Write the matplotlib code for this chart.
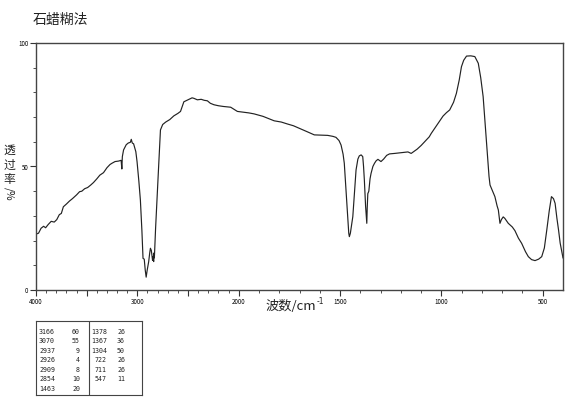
import numpy as np
import matplotlib
matplotlib.use('Agg')
import matplotlib.pyplot as plt

plt.rcParams['font.family'] = ['Noto Sans CJK SC', 'DejaVu Sans']

# spectrum (wavenumber cm-1, transmittance %)
wavenumber = [3995, 3975, 3950, 3925, 3905, 3880, 3850, 3820, 3795, 3770,
              3750, 3730, 3700, 3670, 3640, 3600, 3570, 3548, 3520, 3490,
              3460, 3433, 3400, 3370, 3334, 3300, 3270, 3251, 3220, 3185,
              3160, 3153, 3148, 3136, 3110, 3090, 3069, 3060, 3050, 3037,
              3015, 3003, 2985, 2970, 2955, 2944, 2932, 2922, 2913, 2903,
              2888, 2878, 2871, 2862, 2850, 2843, 2839, 2836, 2832, 2820,
              2805, 2790, 2772, 2750, 2720, 2680, 2640, 2600, 2574, 2541,
              2500, 2460, 2442, 2420, 2408, 2370, 2340, 2309, 2280, 2244,
              2200, 2150, 2079, 2040, 2013, 1980, 1950, 1924, 1880, 1825,
              1790, 1759, 1730, 1693, 1660, 1627, 1590, 1561, 1535, 1520,
              1505, 1495, 1485, 1479, 1470, 1462, 1457, 1454, 1449, 1437,
              1428, 1421, 1412, 1405, 1396, 1388, 1384, 1380, 1374, 1368,
              1366, 1363, 1358, 1352, 1347, 1338, 1330, 1322, 1313, 1305,
              1298, 1285, 1270, 1256, 1230, 1198, 1180, 1165, 1149, 1120,
              1100, 1083, 1060, 1050, 1020, 992, 975, 959, 940, 926,
              912, 901, 890, 876, 855, 835, 818, 806, 794, 783,
              772, 765, 760, 750, 736, 725, 719, 711, 704, 695,
              687, 670, 650, 637, 620, 604, 585, 571, 555, 538,
              520, 505, 492, 480, 468, 457, 447, 439, 430, 422,
              414, 406, 400]
transmittance = [22.7, 23.0, 25.0, 25.8, 25.2, 26.5, 27.8, 27.5, 28.5, 30.5,
                 31.0, 33.7, 34.8, 36.0, 37.0, 38.5, 39.8, 40.0, 41.0, 41.5,
                 42.5, 43.5, 45.0, 46.5, 47.5, 49.5, 50.8, 51.3, 52.0, 52.2,
                 52.5, 49.0, 54.0, 56.7, 58.8, 59.5, 59.8, 61.0, 59.5, 59.2,
                 56.0, 52.0, 44.0, 36.4, 24.0, 12.8, 12.5, 8.0, 5.2, 8.0,
                 11.5, 15.0, 16.9, 16.0, 12.0, 13.5, 11.5, 15.0, 13.0, 25.0,
                 37.8, 50.0, 64.8, 67.0, 68.0, 69.0, 70.5, 71.5, 72.3, 76.2,
                 77.0, 77.8, 77.6, 77.2, 77.0, 77.2, 76.8, 76.6, 75.6, 75.0,
                 74.6, 74.3, 74.0, 73.0, 72.3, 72.0, 71.7, 71.3, 70.3, 68.5,
                 68.0, 67.2, 66.5, 65.2, 64.0, 62.8, 62.7, 62.6, 62.2, 61.8,
                 60.5, 58.7, 55.0, 51.3, 40.0, 29.7, 23.0, 21.6, 23.0, 29.7,
                 40.0, 48.6, 53.0, 54.3, 54.7, 54.0, 50.0, 44.5, 34.0, 27.0,
                 33.0, 39.0, 40.0, 45.0, 47.2, 50.0, 51.3, 52.3, 52.9, 52.4,
                 52.0, 53.0, 54.5, 55.1, 55.3, 55.6, 55.8, 55.9, 55.3, 57.0,
                 58.5, 60.0, 62.0, 63.4, 67.0, 70.4, 71.8, 72.9, 76.0, 79.6,
                 85.0, 90.4, 93.0, 94.7, 94.8, 94.5, 91.8, 86.0, 78.3, 66.0,
                 54.0, 46.0, 42.5, 40.5, 37.8, 34.0, 32.4, 27.0, 28.5, 29.6,
                 29.0, 27.0, 25.5, 24.0, 21.0, 18.9, 15.5, 13.5, 12.3, 11.9,
                 12.5, 13.5, 17.0, 24.3, 32.0, 37.8, 37.0, 35.1, 29.0, 24.3,
                 19.0, 15.5, 13.0]

# peak table
peak_wn = [3166, 3070, 2937, 2926, 2909, 2854, 1463,
           1378, 1367, 1304, 722, 711, 547]
peak_t = [60, 55, 9, 4, 8, 10, 20,
          26, 36, 50, 26, 26, 11]

x_major = [4000, 3500, 3000, 2500, 2000, 1500, 1000, 500]
x_major_labels = ['4000', '', '3000', '', '2000', '1500', '1000', '500']


# IR axis: scale doubles below 2000 cm-1
def fwd(w):
    w = np.asarray(w, dtype=float)
    return np.where(w >= 2000, w, 2 * w - 2000)


def inv(u):
    u = np.asarray(u, dtype=float)
    return np.where(u >= 2000, u, (u + 2000) / 2)


fig = plt.figure(figsize=(5.7, 4.15), dpi=100)
ax = fig.add_axes([36 / 570, 1 - 290 / 415, (563 - 36) / 570, (290 - 43) / 415])
ax.set_xscale('function', functions=(fwd, inv))
ax.plot(wavenumber, transmittance, color='#222222', lw=0.85)
ax.set_xlim(4000, 400)
ax.set_ylim(0, 100)

ax.set_xticks(x_major)
ax.set_xticklabels(x_major_labels)
ax.set_xticks([w for w in range(500, 4000, 100) if w not in x_major], minor=True)
ax.set_yticks([0, 50, 100])
ax.set_yticks(range(10, 100, 10), minor=True)
ax.tick_params(which='major', direction='out', length=4, width=0.8,
               labelsize=4.5, pad=1.5, color='#333333')
ax.tick_params(which='minor', direction='out', length=2, width=0.6, color='#333333')
for s in ax.spines.values():
    s.set_color('#444444')
    s.set_linewidth(1.0)

fig.text(33 / 570, 1 - 20 / 415, '石蜡糊法', fontsize=10, va='center', ha='left', color='#222222')
fig.text(316 / 570, 1 - 306 / 415, '波数/cm', fontsize=9.5, ha='right', va='center',
         color='#222222')
fig.text(316.5 / 570, 1 - 301 / 415, '-1', fontsize=5.5, ha='left', va='center',
         family='DejaVu Sans', color='#222222')
for ch, yy in zip('透过率', [150, 165, 179]):
    fig.text(9 / 570, 1 - yy / 415, ch, fontsize=8.5, ha='center', va='center', color='#222222')
fig.text(9 / 570, 1 - 194 / 415, '/%', fontsize=7.5, ha='center', va='center',
         rotation=270, color='#222222')

# peak table
tb = fig.add_axes([36 / 570, 1 - 395 / 415, (142 - 36) / 570, (395 - 321) / 415])
tb.set_xlim(36, 142)
tb.set_ylim(395, 321)
tb.set_xticks([])
tb.set_yticks([])
for s in tb.spines.values():
    s.set_color('#444444')
    s.set_linewidth(0.8)
tb.axvline(89, color='#444444', lw=0.8)
for i in range(len(peak_wn)):
    row = i if i < 7 else i - 7
    x0 = 55 if i < 7 else 107
    y = 332 + row * 9.45
    tb.text(x0, y, str(peak_wn[i]), fontsize=4.8, ha='right', va='center',
            family='DejaVu Sans Mono', color='#222222')
    tb.text(x0 + 25 if i < 7 else x0 + 18, y, str(peak_t[i]), fontsize=4.8, ha='right',
            va='center', family='DejaVu Sans Mono', color='#222222')

fig.savefig('out.png', dpi=100)
